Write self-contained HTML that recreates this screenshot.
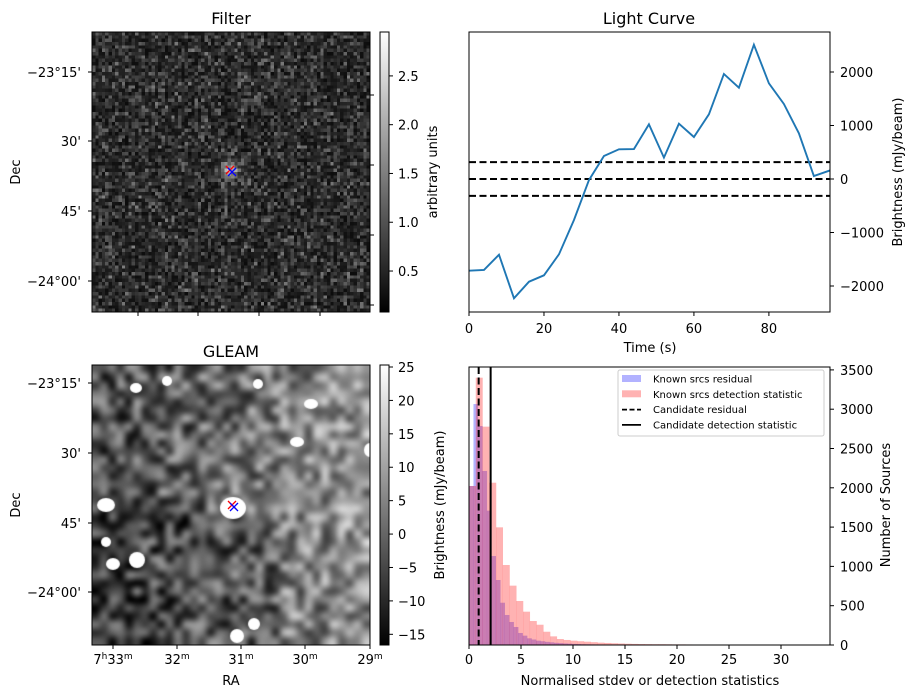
<!DOCTYPE html>
<html><head><meta charset="utf-8">
<style>
html,body{margin:0;padding:0;background:#fff;}
#wrap{position:relative;width:916px;height:699px;overflow:hidden;font-family:"DejaVu Sans","Liberation Sans",sans-serif;}
canvas{position:absolute;}
svg{position:absolute;left:0;top:0;}
text{font-family:"DejaVu Sans","Liberation Sans",sans-serif;fill:#000;}
</style></head>
<body>
<div id="wrap">
<canvas id="filterImg" width="84" height="84" style="left:92px;top:32px;width:278px;height:280px;image-rendering:pixelated;"></canvas>
<canvas id="gleamImg" width="278" height="280" style="left:92px;top:365px;width:278px;height:280px;"></canvas>
<svg id="svg" width="916" height="699" xmlns="http://www.w3.org/2000/svg">
<defs>
<linearGradient id="gray" x1="0" y1="1" x2="0" y2="0"><stop offset="0" stop-color="#000"/><stop offset="1" stop-color="#fff"/></linearGradient>
</defs>
<g id="g"></g>
</svg>
</div>
<script>
// ---------- Light curve data ----------
const lcTimes = [0,4,8,12,16,20,24,28,32,36,40,44,48,52,56,60,64,68,72,76,80,84,88,92,96.3];
const lcValues = [-1714,-1700,-1415,-2230,-1920,-1800,-1408,-766,-20,430,555,560,1022,400,1034,785,1209,1963,1707,2510,1789,1402,854,56,160];
const lcThresholds = [315,0,-315];
const lcXTicks = [0,20,40,60,80];
const lcYTicks = [-2000,-1000,0,1000,2000];
// ---------- Histogram data ----------
const blueBinWidth = 0.43;
const blueCounts = [2023,3066,2786,2214,1709,1132,827,538,382,293,229,153,119,85,70,55,48,40,34,28,24,20,17,14,12,10,9,8,7,6,5,5,4,4,3];
const redBinWidth = 0.65;
const redCounts = [2023,3401,2778,2065,1497,1018,755,560,424,305,258,169,110,76,64,55,48,42,36,30,26,22,19,16,14,12,11,10,10,9,8,8,7,6,6,6,5,5,5,4,4,4,4,3,3,3,3,3,3,3,2];
const candResidual = 0.93;
const candDetection = 2.08;
const histXTicks = [0,5,10,15,20,25,30];
const histYTicks = [0,500,1000,1500,2000,2500,3000,3500];
// ---------- Colorbar ticks ----------
const filterCbTicks = [0.5,1.0,1.5,2.0,2.5];
const gleamCbTicks = [-15,-10,-5,0,5,10,15,20,25];
const decLabels = ["-23°15'","30'","45'","-24°00'"];
const raLabels = ["33","32","31","30","29"];

const NS='http://www.w3.org/2000/svg';
const G=document.getElementById('g');
function el(tag,attrs,parent){const e=document.createElementNS(NS,tag);for(const k in attrs)e.setAttribute(k,attrs[k]);(parent||G).appendChild(e);return e;}
function txt(x,y,s,anchor,size,parent,rot){const t=el('text',{x:x,y:y,'text-anchor':anchor||'middle','font-size':size||13},parent);if(rot)t.setAttribute('transform','rotate('+rot+' '+x+' '+y+')');t.textContent=s;return t;}

// ===== Light curve =====
const lcX=v=>469+(v-0)*(361/96.3);
const lcY=v=>179-v*0.0535;
const lc=el('g',{});


const tl=txt(649,24,'Light Curve','middle',16,lc);


lcThresholds.forEach(v=>{
  const l=el('line',{x1:469,x2:830,y1:lcY(v),y2:lcY(v),stroke:'#000','stroke-width':2,'stroke-dasharray':'7,3.5'},lc);
  
  
});
const pl=el('polyline',{points:lcTimes.map((t,i)=>lcX(t)+','+lcY(lcValues[i])).join(' '),fill:'none',stroke:'#1f77b4','stroke-width':1.9},lc);


el('rect',{x:469,y:32,width:361,height:280,fill:'none',stroke:'#000','stroke-width':1},lc);
lcXTicks.forEach(v=>{const x=lcX(v);el('line',{x1:x,x2:x,y1:312,y2:316,stroke:'#000'},lc);
  const t=txt(x,333,String(v),'middle',13,lc);});
lcYTicks.forEach(v=>{const y=lcY(v);el('line',{x1:830,x2:834,y1:y,y2:y,stroke:'#000'},lc);
  const t=txt(840,y+5,String(v).replace('-','−'),'start',13,lc);});
const xl=txt(650,352,'Time (s)','middle',13,lc);
const yl=txt(902,172,'Brightness (mJy/beam)','middle',13,lc,-90);

// ===== Histogram =====
const hX=v=>469+v*10.4;
const hY=v=>645-v*0.0786;
const hg=el('g',{});


blueCounts.forEach((c,i)=>{const x0=hX(i*blueBinWidth),x1=hX((i+1)*blueBinWidth);
  const r=el('rect',{x:x0,y:hY(c),width:x1-x0+0.2,height:645-hY(c),fill:'#0000ff','fill-opacity':0.3},hg);
  
  });
redCounts.forEach((c,i)=>{const x0=hX(i*redBinWidth),x1=hX((i+1)*redBinWidth);
  const r=el('rect',{x:x0,y:hY(c),width:x1-x0+0.2,height:645-hY(c),fill:'#ff0000','fill-opacity':0.3},hg);
  
  });
const cr=el('line',{x1:hX(candResidual),x2:hX(candResidual),y1:367,y2:645,stroke:'#000','stroke-width':2,'stroke-dasharray':'7,3.5'},hg);

const cd=el('line',{x1:hX(candDetection),x2:hX(candDetection),y1:367,y2:645,stroke:'#000','stroke-width':2},hg);

el('rect',{x:469,y:367,width:361,height:278,fill:'none',stroke:'#000'},hg);
histXTicks.forEach(v=>{const x=hX(v);el('line',{x1:x,x2:x,y1:645,y2:649,stroke:'#000'},hg);
  const t=txt(x,664,String(v),'middle',13,hg);});
histYTicks.forEach(v=>{const y=hY(v);el('line',{x1:830,x2:834,y1:y,y2:y,stroke:'#000'},hg);
  const t=txt(840,y+5,String(v),'start',13,hg);});
const hxl=txt(650,685,'Normalised stdev or detection statistics','middle',13,hg);
const hyl=txt(890,505,'Number of Sources','middle',13,hg,-90);
// legend
const lg=el('g',{},hg);


el('rect',{x:618,y:370,width:206,height:66,rx:2,fill:'#fff','fill-opacity':0.8,stroke:'#ccc'},lg);
const legItems=[['patch','#0000ff','Known srcs residual'],['patch','#ff0000','Known srcs detection statistic'],['dash','','Candidate residual'],['solid','','Candidate detection statistic']];
legItems.forEach((it,i)=>{const y=379+i*15.3;
  const e=el('g',{},lg);
  
  
  if(it[0]==='patch')el('rect',{x:622,y:y-4,width:19,height:7,fill:it[1],'fill-opacity':0.3},e);
  else el('line',{x1:622,x2:641,y1:y,y2:y,stroke:'#000','stroke-width':1.8,'stroke-dasharray':it[0]==='dash'?'5,2.5':'none'},e);
  txt(653,y+3.5,it[2],'start',10,e);});

// ===== Filter panel axes =====
const fp=el('g',{});


const ft=txt(231,24,'Filter','middle',16,fp);
el('rect',{x:92,y:32,width:278,height:280,fill:'none',stroke:'#000'},fp);
[72,141,211,281].forEach((y,i)=>{el('line',{x1:88,x2:92,y1:y,y2:y,stroke:'#000'},fp);
  const t=txt(81,y+5,decLabels[i].replace('-','−'),'end',13,fp);});
[95,165,235,305].forEach(y=>el('line',{x1:370,x2:374,y1:y,y2:y,stroke:'#000'},fp));
[138,198,259,320].forEach(x=>el('line',{x1:x,x2:x,y1:312,y2:316,stroke:'#000'},fp));
const fd=txt(20,172,'Dec','middle',13,fp,-90);
el('line',{x1:226,x2:234,y1:166,y2:174,stroke:'red','stroke-width':1.3},fp);el('line',{x1:226,x2:234,y1:174,y2:166,stroke:'red','stroke-width':1.3},fp);
el('line',{x1:228,x2:236,y1:168,y2:176,stroke:'blue','stroke-width':1.3},fp);el('line',{x1:228,x2:236,y1:176,y2:168,stroke:'blue','stroke-width':1.3},fp);
// filter colorbar
const fcb=el('g',{},fp);


el('rect',{x:380,y:32,width:9,height:280,fill:'url(#gray)',stroke:'#000'},fcb);
const fcY=v=>312-(v-0.08)/(2.95-0.08)*280;
filterCbTicks.forEach(v=>{const y=fcY(v);el('line',{x1:389,x2:393,y1:y,y2:y,stroke:'#000'},fcb);txt(398,y+5,v.toFixed(1),'start',13,fcb);});
const fcl=txt(437,172,'arbitrary units','middle',13,fcb,-90);

// ===== GLEAM panel axes =====
const gp=el('g',{});


const gt=txt(231,357,'GLEAM','middle',16,gp);
el('rect',{x:92,y:365,width:278,height:280,fill:'none',stroke:'#000'},gp);
[383,453,523,592].forEach((y,i)=>{el('line',{x1:88,x2:92,y1:y,y2:y,stroke:'#000'},gp);
  const t=txt(81,y+5,decLabels[i].replace('-','−'),'end',13,gp);});
[113,177,241,305,370].forEach((x,i)=>{el('line',{x1:x,x2:x,y1:645,y2:649,stroke:'#000'},gp);
  const t=el('text',{x:x,y:664,'text-anchor':'middle','font-size':13},gp);
  
  
  if(i===0){t.innerHTML='7<tspan dy="-5" font-size="9">h</tspan><tspan dy="5">33</tspan><tspan dy="-5" font-size="9">m</tspan>';}
  else{t.innerHTML=raLabels[i]+'<tspan dy="-5" font-size="9">m</tspan>';}});
const gra=txt(231,685,'RA','middle',13,gp);
const gd=txt(20,505,'Dec','middle',13,gp,-90);
el('line',{x1:228,x2:236,y1:501,y2:509,stroke:'red','stroke-width':1.3},gp);el('line',{x1:228,x2:236,y1:509,y2:501,stroke:'red','stroke-width':1.3},gp);
el('line',{x1:230,x2:238,y1:503,y2:511,stroke:'blue','stroke-width':1.3},gp);el('line',{x1:230,x2:238,y1:511,y2:503,stroke:'blue','stroke-width':1.3},gp);
const gcb=el('g',{},gp);


el('rect',{x:380,y:365,width:9,height:280,fill:'url(#gray)',stroke:'#000'},gcb);
const gcY=v=>645-(v+16.6)/(25.3+16.6)*280;
gleamCbTicks.forEach(v=>{const y=gcY(v);el('line',{x1:389,x2:393,y1:y,y2:y,stroke:'#000'},gcb);txt(398,y+5,String(v).replace('-','−'),'start',13,gcb);});
const gcl=txt(444,505,'Brightness (mJy/beam)','middle',13,gcb,-90);

// ===== Images (texture, deterministic PRNG) =====
let seed=12345;function rnd(){seed=(seed*1103515245+12345)&0x7fffffff;return seed/0x7fffffff;}
(function(){const c=document.getElementById('filterImg').getContext('2d');const im=c.createImageData(84,84);
 for(let y=0;y<84;y++)for(let x=0;x<84;x++){let v=(rnd()+rnd())/2;v=12+v*v*120;
  const dx=x-41,dy=y-41;const d=Math.sqrt(dx*dx+dy*dy);if(d<3.5)v+=150*(1-d/4);else if(d<7)v+=30*(1-d/7);
  v=Math.min(255,v);const k=(y*84+x)*4;im.data[k]=im.data[k+1]=im.data[k+2]=v;im.data[k+3]=255;}
 c.putImageData(im,0,0);})();
(function(){const cv=document.getElementById('gleamImg');const c=cv.getContext('2d');
 const N=34;const s=document.createElement('canvas');s.width=N;s.height=N;const sc=s.getContext('2d');const im=sc.createImageData(N,N);
 for(let y=0;y<N;y++)for(let x=0;x<N;x++){let base=80+(x/N)*70-((y>N*0.5&&x<N*0.65)?25:0);let v=base+(rnd()-0.5)*150;
  v=Math.max(0,Math.min(255,v));const k=(y*N+x)*4;im.data[k]=im.data[k+1]=im.data[k+2]=v;im.data[k+3]=255;}
 sc.putImageData(im,0,0);c.imageSmoothingEnabled=true;c.imageSmoothingQuality='high';c.drawImage(s,0,0,278,280);
 const blobs=[[141,143,13,11],[14,140,9,7],[45,195,8,8],[21,199,7,6],[145,271,7,7],[162,259,6,6],[44,23,6,5],[75,16,5,5],[219,39,7,5],[205,77,7,5],[278,85,6,7],[166,19,5,5],[14,177,5,5]];
 blobs.forEach(b=>{c.fillStyle='#fff';c.beginPath();c.ellipse(b[0],b[1],b[2],b[3],0,0,Math.PI*2);c.fill();});})();
</script>
</body></html>
